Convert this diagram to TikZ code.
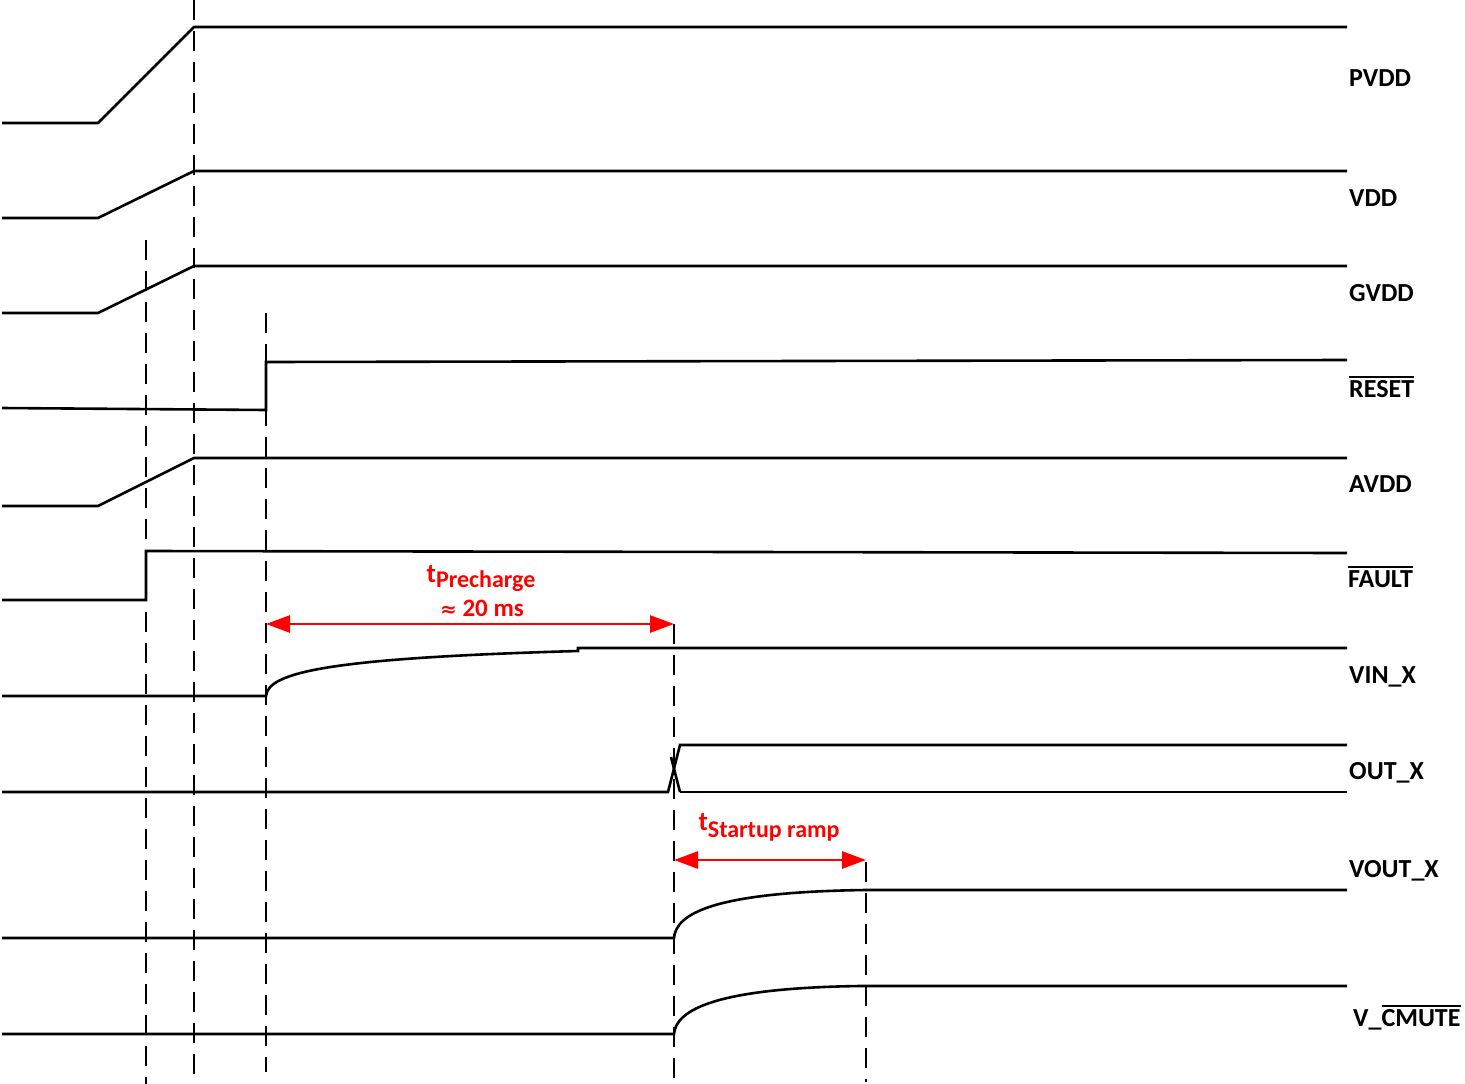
\documentclass[tikz,border=0pt]{standalone}
\usepackage{fontspec}
\setmainfont{Carlito}
\newfontfamily\symfont{DejaVu Sans}
\usetikzlibrary{arrows.meta}
\newcommand\ovl[1]{\leavevmode\vbox{\hrule height 1.8pt \kern 2.4pt \hbox{#1}}}
\begin{document}
\begin{tikzpicture}[x=1pt,y=-1pt,
  sig/.style={line width=2.6pt, line join=miter},
  guide/.style={line width=2.8pt, dash pattern=on 20pt off 11pt},
  lbl/.style={anchor=base west, inner sep=0pt, font=\fontsize{26}{30}\selectfont\bfseries},
  dim/.style={red, line width=2.8pt, {Triangle[length=24pt,width=17pt]}-{Triangle[length=24pt,width=17pt]}},
  dimtxt/.style={red, anchor=base, inner sep=0pt, font=\fontsize{27}{30}\selectfont\bfseries}]
\useasboundingbox (0,0) rectangle (1465,1084);
% guides
\draw[guide] (146,240) -- (146,1084);
\draw[guide] (194,0) -- (194,1084);
\draw[guide] (266,313) -- (266,1072);
\draw[guide] (674,624) -- (674,1084);
\draw[guide] (866,862) -- (866,1082);
% signals
\draw[sig] (2,123) -- (98,123) -- (194,27) -- (1347,27);
\draw[sig] (2,218) -- (98,218) -- (194,171) -- (1347,171);
\draw[sig] (2,313) -- (98,313) -- (194,266) -- (1347,266);
\draw[sig] (2,408) -- (266,410) -- (266,362) -- (1347,360);
\draw[sig] (2,506) -- (98,506) -- (194,458) -- (1347,458);
\draw[sig] (2,600) -- (146,600) -- (146,551) -- (1347,553);
\draw[sig] (2,696) -- (266,696) .. controls (268,672) and (330,658) .. (578,651) -- (578,648) -- (1347,648);
\draw[sig] (2,792) -- (668,792) -- (680,745) -- (1347,745);
\draw[sig] (680,792) -- (1347,792);
\draw[sig] (680,792) -- (671,757);
\draw[sig] (2,938) -- (674,938) .. controls (676,914) and (712,892) .. (866,890) -- (1347,890);
\draw[sig] (2,1034) -- (674,1034) .. controls (676,1010) and (715,988) .. (860,986) -- (1347,986);
% labels
\node[lbl] (pvdd) at (1349,86) {PVDD};
\node[lbl] (vdd) at (1349,206) {VDD};
\node[lbl] (gvdd) at (1349,301) {GVDD};
\node[lbl] (reset) at (1349,397) {\ovl{RESET}};
\node[lbl] (avdd) at (1349,492) {AVDD};
\node[lbl] (fault) at (1348,587) {\ovl{FAULT}};
\node[lbl] (vinx) at (1349,683) {VIN\_X};
\node[lbl] (outx) at (1349,779) {OUT\_X};
\node[lbl] (voutx) at (1349,877) {VOUT\_X};
\node[lbl] (vcmute) at (1353,1026) {V\_\ovl{CMUTE}};
% dimensions
\draw[dim] (266,624) -- (674,624);
\draw[dim] (674,860) -- (866,860);
\node[dimtxt] (tpre) at (481,582) {t\raisebox{-5pt}{\fontsize{24}{28}\selectfont Precharge}};
\node[dimtxt] (tpreval) at (482,616) {\fontsize{25}{28}\selectfont{\symfont\fontsize{20}{24}\selectfont ≈} 20 ms};
\node[dimtxt] (tstart) at (769,830) {t\raisebox{-7pt}{\fontsize{24}{28}\selectfont Startup ramp}};
\end{tikzpicture}
\end{document}
